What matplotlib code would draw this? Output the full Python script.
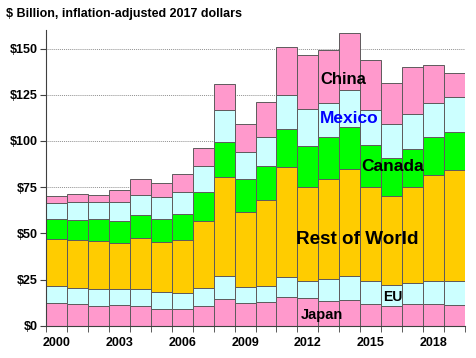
import matplotlib.pyplot as plt
import numpy as np

plt.rcParams['font.family'] = ['Liberation Sans', 'DejaVu Sans']

years = np.arange(2000, 2020)

japan = [12.6, 12.1, 11.0, 11.4, 11.0, 9.4, 9.4, 11.0, 14.8, 12.6,
         12.8, 15.5, 15.0, 13.4, 13.9, 11.7, 10.6, 11.7, 11.7, 11.2]
eu = [9.1, 8.7, 8.9, 8.5, 8.9, 8.8, 8.5, 9.8, 12.4, 8.7,
      9.0, 11.0, 9.4, 11.9, 13.2, 12.8, 11.8, 11.8, 12.5, 13.0]
rest_of_world = [25.2, 25.6, 25.9, 24.9, 27.7, 27.1, 28.5, 35.7, 53.3, 40.3,
                 46.2, 59.2, 51.0, 53.9, 57.5, 50.9, 47.8, 51.6, 57.4, 59.9]
canada = [10.9, 10.8, 12.0, 12.2, 12.3, 12.8, 14.1, 15.9, 18.9, 17.8,
          18.3, 20.7, 21.9, 22.9, 22.8, 22.4, 20.6, 20.6, 20.5, 20.8]
mexico = [8.6, 9.8, 9.2, 10.0, 10.8, 11.5, 12.2, 14.1, 17.5, 14.6,
          15.7, 18.3, 20.2, 18.5, 20.0, 19.0, 18.2, 18.7, 18.5, 18.9]
china = [4.0, 4.1, 3.7, 6.3, 8.7, 7.6, 9.4, 9.7, 14.1, 15.1,
         19.3, 26.0, 29.0, 28.8, 31.1, 27.0, 22.6, 25.7, 20.5, 13.2]

series = [japan, eu, rest_of_world, canada, mexico, china]
colors = ['#ff99cc', '#ccffff', '#ffcc00', '#00ff00', '#ccffff', '#ff99cc']

fig = plt.figure(figsize=(4.77, 3.58), dpi=100)
ax = fig.add_axes([0.0964, 0.0894, 0.8786, 0.8268])

bottom = np.zeros(len(years))
for vals, col in zip(series, colors):
    ax.bar(years, vals, width=1.0, bottom=bottom, color=col,
           edgecolor='#5e5a5c', linewidth=0.7, zorder=2)
    bottom += np.array(vals)

ax.set_xlim(1999.5, 2019.5)
ax.set_ylim(0, 160)
ax.set_yticks(np.arange(0, 151, 25))
ax.set_yticklabels(['$%d' % v for v in range(0, 151, 25)],
                   fontsize=9, fontweight='bold')
ax.yaxis.grid(True, linestyle=(0, (1, 1)), color='#909090', linewidth=0.7, zorder=0)
ax.set_axisbelow(True)

ax.set_xticks([2000, 2003, 2006, 2009, 2012, 2015, 2018])
ax.set_xticklabels(['2000', '2003', '2006', '2009', '2012', '2015', '2018'],
                   fontsize=9, fontweight='bold')
ax.set_xticks(np.arange(1999.5, 2020, 1), minor=True)
ax.tick_params(axis='x', which='major', length=0, pad=8)
ax.tick_params(axis='x', which='minor', length=4, color='#404040')
ax.tick_params(axis='y', length=4, color='#404040', pad=2)

for side in ['top', 'right']:
    ax.spines[side].set_visible(False)
ax.spines['left'].set_color('#404040')
ax.spines['bottom'].set_color('#404040')

fig.text(0.012, 0.962, '$ Billion, inflation-adjusted 2017 dollars',
         fontsize=9, fontweight='bold', ha='left', va='center')

ax.text(2013.67, 133, 'China', fontsize=12, fontweight='bold', ha='center', va='center', zorder=3)
ax.text(2013.96, 112, 'Mexico', fontsize=12.5, fontweight='bold', color='#0000ff',
        ha='center', va='center', zorder=3)
ax.text(2016.06, 86, 'Canada', fontsize=12.5, fontweight='bold', ha='center', va='center', zorder=3)
ax.text(2014.34, 47, 'Rest of World', fontsize=13.6, fontweight='bold', ha='center', va='center', zorder=3)
ax.text(2016.06, 15.7, 'EU', fontsize=10, fontweight='bold', ha='center', va='center', zorder=3)
ax.text(2012.67, 6, 'Japan', fontsize=10.5, fontweight='bold', ha='center', va='center', zorder=3)

fig.savefig('out.png', dpi=100)
